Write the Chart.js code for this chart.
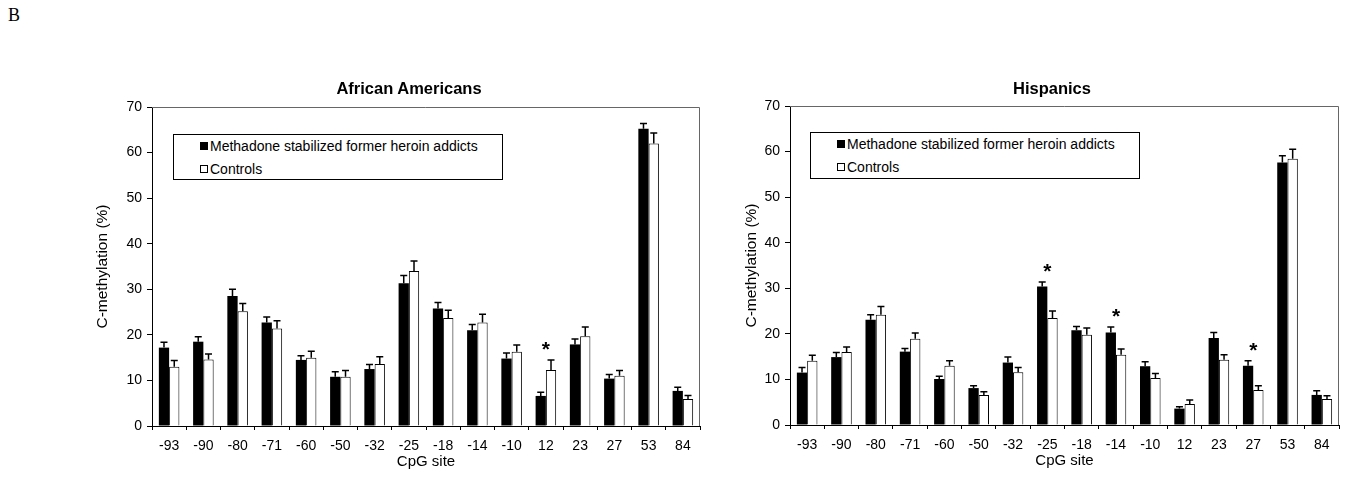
<!DOCTYPE html>
<html>
<head>
<meta charset="utf-8">
<script src="https://cdn.jsdelivr.net/npm/chart.js@4/dist/chart.umd.min.js"></script>
<style>
    body { margin: 0; background: #fff; font-family: "Liberation Sans", Arial, sans-serif; }
    #page { position: relative; width: 1350px; height: 493px; overflow: hidden; }
    .panel { position: absolute; }
    .letter { position: absolute; left: 8px; top: 5px; font-family: "Liberation Serif", serif; font-size: 18px; }
    .title { position: absolute; width: 300px; margin-left: -150px; text-align: center; font-weight: bold; font-size: 16.5px; line-height: 20px; top: 78px; }
    .legend { position: absolute; border: 1px solid #000; background: #fff; font-size: 14px; color: #000; box-sizing: border-box; }
    .legend .row { position: absolute; left: 36px; white-space: nowrap; line-height: 16px; }
    .legend .mk { position: absolute; left: -10px; top: 4px; width: 8px; height: 8px; box-sizing: border-box; border: 1px solid #000; }
</style>
</head>
<body>
<div id="page">
    <div class="letter">B</div>
    <div class="panel" style="left:90px; top:70px; width:620px; height:406px;"><canvas id="chartAA"></canvas></div>
    <div class="panel" style="left:740px; top:69px; width:609px; height:406px;"><canvas id="chartH"></canvas></div>

    <div class="title" style="left:409px;">African Americans</div>
    <div class="title" style="left:1052px;">Hispanics</div>

    <div class="legend" style="left:173px; top:134px; width:330px; height:46px;">
        <div class="row" style="top:3px;"><span class="mk" style="background:#000"></span>Methadone stabilized former heroin addicts</div>
        <div class="row" style="top:26px;"><span class="mk" style="background:#fff"></span>Controls</div>
    </div>
    <div class="legend" style="left:810px; top:132px; width:330px; height:47px;">
        <div class="row" style="top:3px;"><span class="mk" style="background:#000"></span>Methadone stabilized former heroin addicts</div>
        <div class="row" style="top:26px;"><span class="mk" style="background:#fff"></span>Controls</div>
    </div>
</div>

<script>
const sites = ['-93','-90','-80','-71','-60','-50','-32','-25','-18','-14','-10','12','23','27','53','84'];

// African Americans
const aaMethadone    = [17.2, 18.5, 28.5, 22.7, 14.5, 10.8, 12.5, 31.3, 25.8, 21.0, 14.8, 6.6, 17.9, 10.4, 65.2, 7.7];
const aaMethadoneErr = [1.2, 1.1, 1.5, 1.2, 0.9, 1.1, 1.0, 1.7, 1.3, 1.3, 1.2, 0.8, 1.2, 0.9, 1.2, 0.8];
const aaControls     = [13.0, 14.6, 25.2, 21.4, 15.0, 10.8, 13.6, 34.0, 23.7, 22.7, 16.3, 12.3, 19.7, 11.0, 62.0, 5.9];
const aaControlsErr  = [1.4, 1.2, 1.7, 1.7, 1.4, 1.4, 1.6, 2.2, 1.7, 1.8, 1.5, 2.2, 2.0, 1.2, 2.3, 0.8];
const aaStars = ['12'];

// Hispanics
const hMethadone    = [11.5, 14.9, 23.1, 16.1, 10.1, 8.1, 13.7, 30.4, 20.8, 20.3, 12.9, 3.6, 19.1, 13.0, 57.6, 6.6];
const hMethadoneErr = [1.1, 1.0, 1.1, 0.7, 0.6, 0.5, 1.2, 1.0, 0.8, 1.2, 1.0, 0.4, 1.2, 1.1, 1.5, 0.9];
const hControls     = [14.1, 16.0, 24.2, 18.9, 13.0, 6.6, 11.6, 23.5, 19.8, 15.4, 10.3, 4.6, 14.3, 7.7, 58.4, 5.7];
const hControlsErr  = [1.2, 1.1, 1.8, 1.3, 1.1, 0.7, 1.0, 1.5, 1.5, 1.3, 1.0, 0.9, 1.1, 0.9, 2.1, 0.7];
const hStars = ['-25', '-14', '27'];

const yTicks = [0, 10, 20, 30, 40, 50, 60, 70];

Chart.defaults.font.family = '"Liberation Sans", Arial, sans-serif';
Chart.defaults.color = '#000';
Chart.defaults.animation = false;

// up-only error bars with caps + box lines + stars
const extras = {
    id: 'extras',
    afterDatasetsDraw(chart, args, opts) {
        const ctx = chart.ctx;
        const y = chart.scales.y;
        const area = chart.chartArea;
        ctx.save();
        // top and right frame
        ctx.strokeStyle = '#666';
        ctx.lineWidth = 1;
        ctx.beginPath();
        ctx.moveTo(area.left, area.top + 0.5);
        ctx.lineTo(area.right - 0.5, area.top + 0.5);
        ctx.lineTo(area.right - 0.5, area.bottom);
        ctx.stroke();

        ctx.strokeStyle = '#000';
        ctx.lineWidth = 1.5;
        const tops = [];
        chart.data.datasets.forEach((ds, di) => {
            const meta = chart.getDatasetMeta(di);
            meta.data.forEach((bar, i) => {
                const yTop = y.getPixelForValue(ds.data[i] + ds.errors[i]);
                ctx.beginPath();
                ctx.moveTo(bar.x, bar.y);
                ctx.lineTo(bar.x, yTop);
                ctx.moveTo(bar.x - 3.5, yTop);
                ctx.lineTo(bar.x + 3.5, yTop);
                ctx.stroke();
                tops[i] = Math.min(tops[i] === undefined ? Infinity : tops[i], yTop);
            });
        });

        ctx.fillStyle = '#000';
        ctx.font = 'bold 21px "Liberation Sans", Arial, sans-serif';
        ctx.textAlign = 'center';
        ctx.textBaseline = 'alphabetic';
        const x = chart.scales.x;
        (opts.stars || []).forEach(s => {
            const i = chart.data.labels.indexOf(s);
            const cx = x.getPixelForValue(i);
            ctx.fillText('*', cx, tops[i] - 16 + 12);
        });
        ctx.restore();
    }
};

function makeChart(id, m, mErr, c, cErr, stars, yWidth, yTitlePad) {
    return new Chart(document.getElementById(id), {
        type: 'bar',
        data: {
            labels: sites,
            datasets: [{
                label: 'Methadone stabilized former heroin addicts',
                data: m,
                errors: mErr,
                backgroundColor: '#000',
                borderColor: '#000',
                borderWidth: 0,
                categoryPercentage: 0.6,
                barPercentage: 1.0
            }, {
                label: 'Controls',
                data: c,
                errors: cErr,
                backgroundColor: '#fff',
                borderColor: '#000',
                borderWidth: 1,
                categoryPercentage: 0.6,
                barPercentage: 1.0
            }]
        },
        options: {
            responsive: true,
            maintainAspectRatio: false,
            layout: { padding: { top: 37, right: 10, left: 0, bottom: 0 } },
            plugins: {
                legend: { display: false },
                tooltip: { enabled: false },
                title: { display: false },
                extras: { stars: stars }
            },
            scales: {
                x: {
                    grid: { display: true, drawOnChartArea: false, tickLength: 4, color: '#000', offset: true },
                    border: { color: '#000', width: 1 },
                    ticks: { font: { size: 14 }, padding: 8, maxRotation: 0, autoSkip: false },
                    title: { display: true, text: 'CpG site', font: { size: 15 }, padding: { top: 0, bottom: 5 } },
                    afterFit: s => { s.height = 50; }
                },
                y: {
                    min: 0,
                    max: 70,
                    afterBuildTicks: s => { s.ticks = yTicks.map(v => ({ value: v })); },
                    grid: { display: true, drawOnChartArea: false, tickLength: 5, color: '#000' },
                    border: { color: '#000', width: 1 },
                    ticks: { font: { size: 14 }, padding: 5 },
                    title: { display: true, text: 'C-methylation (%)', font: { size: 15.5 }, padding: { top: yTitlePad, bottom: 0 } },
                    afterFit: s => { s.width = yWidth; }
                }
            }
        },
        plugins: [extras]
    });
}

makeChart('chartAA', aaMethadone, aaMethadoneErr, aaControls, aaControlsErr, aaStars, 62, 3.7);
makeChart('chartH', hMethadone, hMethadoneErr, hControls, hControlsErr, hStars, 50, 2.7);
</script>
</body>
</html>
